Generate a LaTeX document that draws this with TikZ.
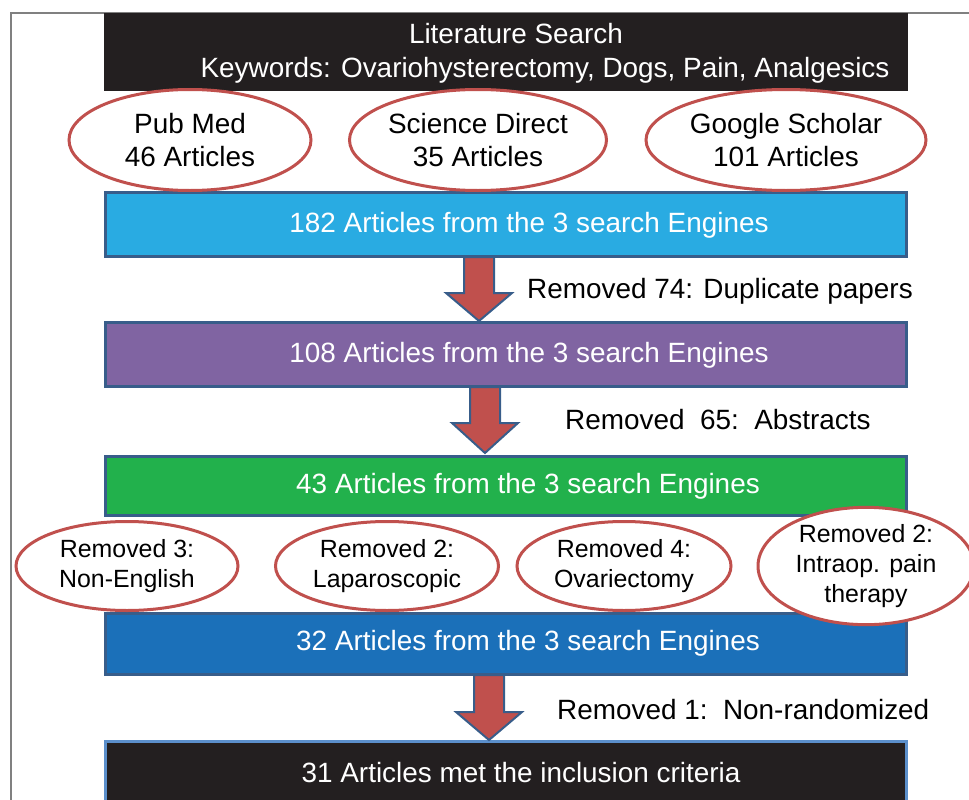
\documentclass[tikz,border=0pt]{standalone}
\usepackage{fontspec}
\setmainfont{Liberation Sans}
\usepackage{tikz}
\usetikzlibrary{shapes.geometric,calc}

\definecolor{titleblack}{HTML}{231F20}
\definecolor{cyanfill}{HTML}{29ABE2}
\definecolor{purplefill}{HTML}{8064A2}
\definecolor{greenfill}{HTML}{22B14C}
\definecolor{bluefill}{HTML}{1B70B9}
\definecolor{borderblue}{HTML}{385D8A}
\definecolor{lightborder}{HTML}{5B8FCB}
\definecolor{ovalred}{HTML}{C0504D}
\definecolor{framegray}{HTML}{808080}

\tikzset{
  stage/.style={rectangle, draw=borderblue, line width=3bp, minimum width=801bp, inner sep=0pt},
  stagetext/.style={text=white, font=\fontsize{28}{33}\selectfont},
  source/.style={ellipse, draw=ovalred, line width=3bp, fill=white, inner sep=0pt, align=center, font=\fontsize{28}{33}\selectfont},
  removal/.style={ellipse, draw=ovalred, line width=3bp, fill=white, inner sep=0pt, align=center, font=\fontsize{25}{30}\selectfont, minimum height=89bp},
  note/.style={anchor=west, inner sep=0pt, font=\fontsize{28}{33}\selectfont},
  flow/.style={fill=ovalred, draw=borderblue, line width=2bp, line join=miter}
}

\begin{document}
\begin{tikzpicture}[x=1bp,y=-1bp]
\useasboundingbox (0,0) rectangle (969,800);
\draw[framegray, line width=1.5bp] (11,800) -- (11,13) -- (969,13);

\node[rectangle, fill=titleblack, minimum width=804bp, minimum height=78bp, inner sep=0pt] (search) at (506,52) {};
\node[text=white, align=center, font=\fontsize{28}{34}\selectfont] (searchtxt) at (545,53) {Literature Search\hspace*{58bp}\\Keywords: Ovariohysterectomy, Dogs, Pain, Analgesics};

\node[stage, fill=cyanfill, minimum height=64bp] (pooled) at (506,224.5) {};
\node[stagetext] (pooledtxt) at (529,225) {182 Articles from the 3 search Engines};
\node[stage, fill=purplefill, minimum height=64bp] (dedup) at (506,354.5) {};
\node[stagetext] (deduptxt) at (529,355) {108 Articles from the 3 search Engines};
\node[stage, fill=greenfill, minimum height=59bp] (screened) at (506,486) {};
\node[stagetext] (screenedtxt) at (528,486) {43 Articles from the 3 search Engines};
\node[stage, fill=bluefill, minimum height=61bp] (filtered) at (506,644) {};
\node[stagetext] (filteredtxt) at (528,643) {32 Articles from the 3 search Engines};
\node[stage, draw=lightborder, fill=titleblack, minimum height=67bp] (included) at (506,775) {};
\node[stagetext] (includedtxt) at (521,773) {31 Articles met the inclusion criteria};

\draw[flow] ($(pooled.south)+(-42,-1)$) -- ($(pooled.south)+(-12,-1)$) -- ($(pooled.south)+(-12,35)$) -- ($(pooled.south)+(6,35)$) -- ($(dedup.north)+(-27,0)$) -- ($(pooled.south)+(-60,35)$) -- ($(pooled.south)+(-42,35)$) -- cycle;
\draw[flow] ($(dedup.south)+(-36,-1)$) -- ($(dedup.south)+(-6,-1)$) -- ($(dedup.south)+(-6,35)$) -- ($(dedup.south)+(12,35)$) -- ($(screened.north)+(-21,-2)$) -- ($(dedup.south)+(-54,35)$) -- ($(dedup.south)+(-36,35)$) -- cycle;
\draw[flow] ($(filtered.south)+(-32,-1)$) -- ($(filtered.south)+(-2,-1)$) -- ($(filtered.south)+(-2,36)$) -- ($(filtered.south)+(16,36)$) -- ($(included.north)+(-17,0)$) -- ($(filtered.south)+(-50,36)$) -- ($(filtered.south)+(-32,36)$) -- cycle;

\node[note] (dupnote) at (527,291) {Removed 74: Duplicate papers};
\node[note] (absnote) at (565,420) {Removed~~65:~~Abstracts};
\node[note] (randnote) at (557,710) {Removed 1:~~Non-randomized};

\node[source, minimum width=242bp, minimum height=101bp] (pubmed) at (190,140) {Pub Med\\46 Articles};
\node[source, minimum width=257bp, minimum height=101bp] (sciencedirect) at (478,140) {Science Direct\\35 Articles};
\node[source, minimum width=280bp, minimum height=101bp] (scholar) at (786,140) {Google Scholar\\101 Articles};

\node[removal, minimum width=222bp] (english) at (127,566) {Removed 3:\\Non-English};
\node[removal, minimum width=223bp] (laparo) at (387,566) {Removed 2:\\Laparoscopic};
\node[removal, minimum width=214bp] (ovari) at (624,566) {Removed 4:\\Ovariectomy};
\node[removal, minimum width=216bp] (intraop) at (866,566) {Removed 2:\\Intraop. pain\\therapy};
\end{tikzpicture}
\end{document}
